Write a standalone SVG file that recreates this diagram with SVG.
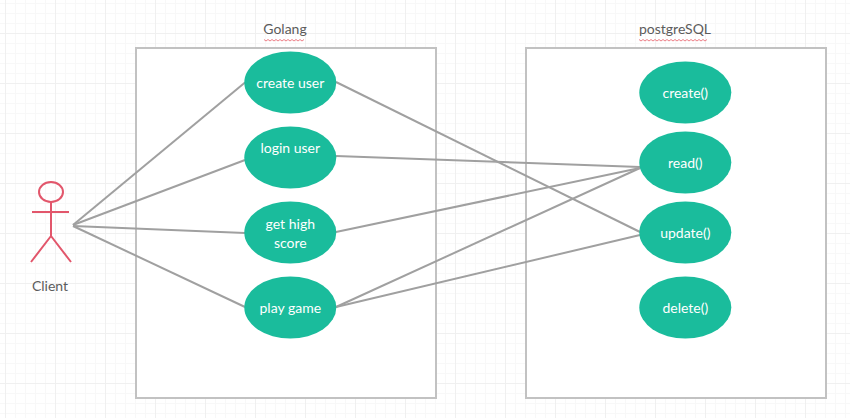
<svg xmlns="http://www.w3.org/2000/svg" width="850" height="418" viewBox="0 0 850 418">
<defs>
<pattern id="grid" width="50" height="50" patternUnits="userSpaceOnUse" x="5" y="-17">
<path d="M10.500 0V50M20.500 0V50M30.500 0V50M40.500 0V50M0 10.500H50M0 20.500H50M0 30.500H50M0 40.500H50" fill="none" stroke="#f8f8f8" stroke-width="1"/>
<path d="M0.500 0V50M0 0.500H50" fill="none" stroke="#f0f0f0" stroke-width="1"/>
</pattern>
</defs>
<style>
.box{fill:#fff;stroke:#c2c2c2;stroke-width:2}
.uc{fill:#1abc9c}
.uct{fill:#fff;font:14px Lato,"Liberation Sans",sans-serif;text-anchor:middle}
.lab{fill:#5c5c5c;font:14px Lato,"Liberation Sans",sans-serif;text-anchor:middle}
.con{stroke:#a0a0a0;stroke-width:2;fill:none}
.act{stroke:#e2566b;stroke-width:2;fill:none}
.sq{stroke:#e8606a;stroke-width:.8;fill:none}
</style>
<rect width="850" height="418" fill="#fff"/>
<rect width="850" height="418" fill="url(#grid)"/>
<g id="golang"><rect class="box" x="136" y="48" width="300" height="350"/><text class="lab" x="285" y="34">Golang</text><path class="sq" d="M264 39.500l2 1.500l2-1.500l2 1.500l2-1.500l2 1.500l2-1.500l2 1.500l2-1.500l2 1.500l2-1.500l2 1.500l2-1.500l2 1.500l2-1.500l2 1.500l2-1.500l2 1.500l2-1.500l2 1.500l2-1.500"/></g>
<g id="postgresql"><rect class="box" x="526" y="48" width="300" height="350"/><text class="lab" x="675" y="34">postgreSQL</text><path class="sq" d="M639 39.500l2 1.500l2-1.500l2 1.500l2-1.500l2 1.500l2-1.500l2 1.500l2-1.500l2 1.500l2-1.500l2 1.500l2-1.500l2 1.500l2-1.500l2 1.500l2-1.500l2 1.500l2-1.500l2 1.500l2-1.500l2 1.500l2-1.500l2 1.500l2-1.500l2 1.500l2-1.500l2 1.500l2-1.500l2 1.500l2-1.500l2 1.500l2-1.500l2 1.500l2-1.500"/></g>
<g id="connectors">
<path class="con" d="M73 225L245 82.500"/>
<path class="con" d="M73 225L245 160"/>
<path class="con" d="M73 226L245 233"/>
<path class="con" d="M73 226L245 307"/>
<path class="con" d="M336 82L640 232"/>
<path class="con" d="M336 156L640 167"/>
<path class="con" d="M336 232L640 168"/>
<path class="con" d="M336 307L640 168"/>
<path class="con" d="M336 307L640 235"/>
</g>
<g id="client"><ellipse class="act" cx="51" cy="192" rx="12" ry="10"/><path class="act" d="M51 202V236M32 212H69M51 236L31 262M51 236L71 262"/><text class="lab" x="50" y="291">Client</text></g>
<g id="create-user"><ellipse class="uc" cx="290.300" cy="82.500" rx="46" ry="31"/><text class="uct" x="290.300" y="88">create user</text></g>
<g id="login-user"><ellipse class="uc" cx="290.300" cy="157.500" rx="46" ry="31"/><text class="uct" x="290.300" y="153">login user</text></g>
<g id="get-high-score"><ellipse class="uc" cx="290.300" cy="232.500" rx="46" ry="31"/><text class="uct" x="290.300" y="229">get high</text><text class="uct" x="290.300" y="248">score</text></g>
<g id="play-game"><ellipse class="uc" cx="290.300" cy="307.500" rx="46" ry="31"/><text class="uct" x="290.300" y="313">play game</text></g>
<g id="create"><ellipse class="uc" cx="685.300" cy="92.500" rx="46" ry="31"/><text class="uct" x="685.300" y="98">create()</text></g>
<g id="read"><ellipse class="uc" cx="685.300" cy="162.500" rx="46" ry="31"/><text class="uct" x="685.300" y="168">read()</text></g>
<g id="update"><ellipse class="uc" cx="685.300" cy="232.500" rx="46" ry="31"/><text class="uct" x="685.300" y="238">update()</text></g>
<g id="delete"><ellipse class="uc" cx="685.300" cy="307.500" rx="46" ry="31"/><text class="uct" x="685.300" y="313">delete()</text></g>
</svg>
